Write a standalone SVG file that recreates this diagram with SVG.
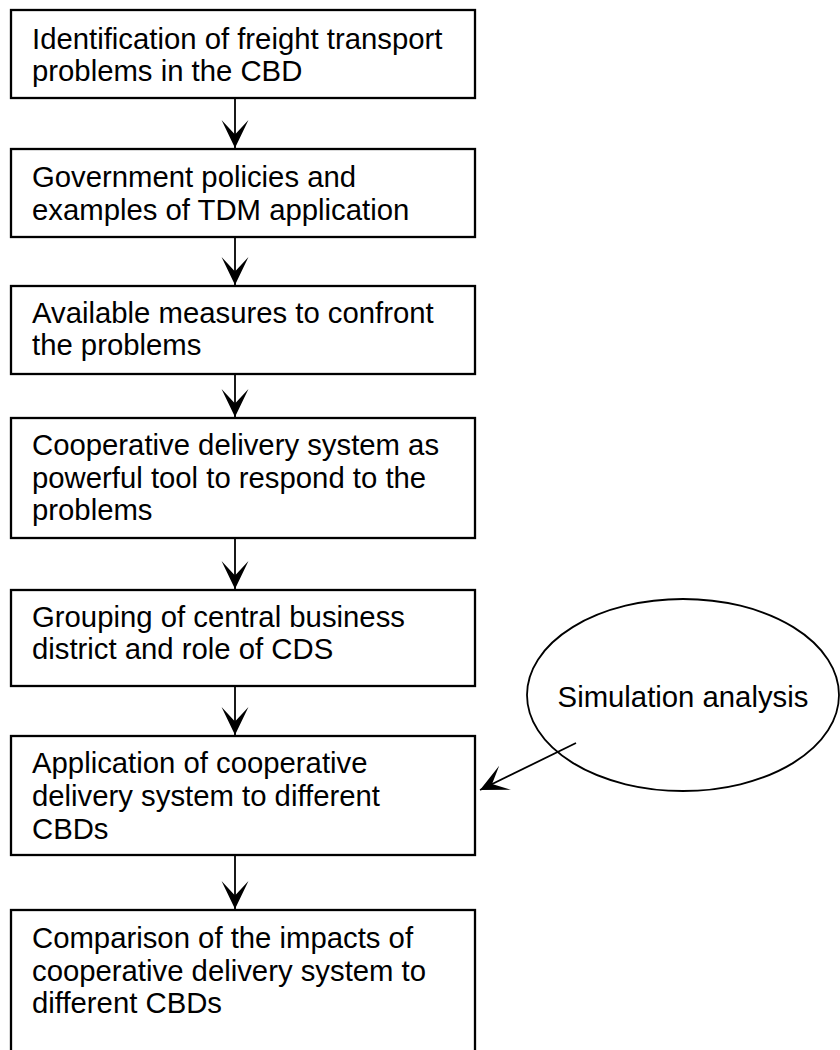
<svg xmlns="http://www.w3.org/2000/svg" width="840" height="1050" viewBox="0 0 840 1050">
  <style>
    .box { fill: #fff; stroke: #000; stroke-width: 2.3; }
    .ell { fill: none; stroke: #000; stroke-width: 1.8; }
    .lbl { font-family: "Liberation Sans", Arial, sans-serif; font-size: 29.3px; fill: #000; }
    .conn { stroke: #000; stroke-width: 1.8; fill: none; marker-end: url(#stealth); }
  </style>
  <defs>
    <marker id="stealth" markerUnits="userSpaceOnUse" markerWidth="30" markerHeight="30" viewBox="-27 -14 29 28" refX="0" refY="0" orient="auto">
      <path d="M0,0 L-27,-13 L-13,0 L-27,13 Z" fill="#000"/>
    </marker>
  </defs>
  <rect width="840" height="1050" fill="#fff"/>

  <g id="connectors">
    <line class="conn" x1="235" y1="98" x2="235" y2="148"/>
    <line class="conn" x1="235" y1="237" x2="235" y2="285"/>
    <line class="conn" x1="235" y1="374" x2="235" y2="417"/>
    <line class="conn" x1="235" y1="538" x2="235" y2="589"/>
    <line class="conn" x1="235" y1="686" x2="235" y2="735"/>
    <line class="conn" x1="235" y1="855" x2="235" y2="909"/>
    <line class="conn" x1="576" y1="743" x2="480" y2="790"/>
  </g>

  <g id="n1">
    <rect class="box" x="11" y="10" width="464" height="88"/>
    <text class="lbl" x="32" y="49">Identification of freight transport</text>
    <text class="lbl" x="32" y="81">problems in the CBD</text>
  </g>
  <g id="n2">
    <rect class="box" x="11" y="149" width="464" height="88"/>
    <text class="lbl" x="32" y="187">Government policies and</text>
    <text class="lbl" x="32" y="220">examples of TDM application</text>
  </g>
  <g id="n3">
    <rect class="box" x="11" y="286" width="464" height="88"/>
    <text class="lbl" x="32" y="323">Available measures to confront</text>
    <text class="lbl" x="32" y="355">the problems</text>
  </g>
  <g id="n4">
    <rect class="box" x="11" y="418" width="464" height="120"/>
    <text class="lbl" x="32" y="455">Cooperative delivery system as</text>
    <text class="lbl" x="32" y="488">powerful tool to respond to the</text>
    <text class="lbl" x="32" y="520">problems</text>
  </g>
  <g id="n5">
    <rect class="box" x="11" y="590" width="464" height="96"/>
    <text class="lbl" x="32" y="627">Grouping of central business</text>
    <text class="lbl" x="32" y="659">district and role of CDS</text>
  </g>
  <g id="n6">
    <rect class="box" x="11" y="736" width="464" height="119"/>
    <text class="lbl" x="32" y="773">Application of cooperative</text>
    <text class="lbl" x="32" y="806">delivery system to different</text>
    <text class="lbl" x="32" y="839">CBDs</text>
  </g>
  <g id="n7">
    <rect class="box" x="11" y="910" width="464" height="160"/>
    <text class="lbl" x="32" y="948">Comparison of the impacts of</text>
    <text class="lbl" x="32" y="981">cooperative delivery system to</text>
    <text class="lbl" x="32" y="1013">different CBDs</text>
  </g>
  <g id="sim">
    <ellipse class="ell" cx="683" cy="695" rx="156" ry="96"/>
    <text class="lbl" x="683" y="707" text-anchor="middle">Simulation analysis</text>
  </g>
</svg>
